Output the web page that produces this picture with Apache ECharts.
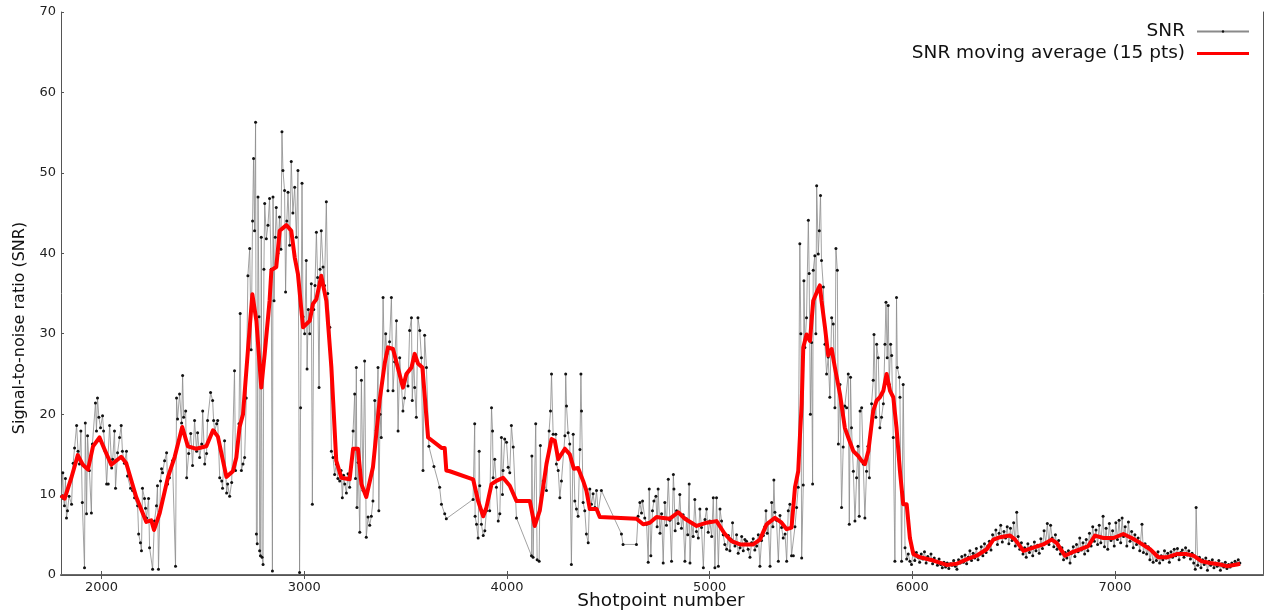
<!DOCTYPE html>
<html><head><meta charset="utf-8">
<script src="https://cdn.jsdelivr.net/npm/echarts@6/dist/echarts.min.js"></script>
<style>html,body{margin:0;padding:0;background:#fff}#chart{width:1267px;height:615px}</style>
</head><body><div id="chart"></div>
<script>
// ---- data ----
const snrShotpoints = [
 1803,1809,1812,1817,1822,1827,1832,1840,1852,1860,1867,1877,1884,1891,1898,1905,1916,1920,1926,1931,
 1940,1950,1955,1970,1975,1980,1987,1995,2005,2010,2018,2025,2033,2040,2050,2055,2064,2069,2079,2089,
 2097,2103,2113,2123,2128,2143,2153,2163,2178,2183,2192,2197,2202,2212,2217,2222,2232,2237,2252,2261,
 2271,2276,2281,2291,2296,2301,2311,2321,2326,2335,2350,2365,2370,2375,2385,2395,2400,2405,2415,2420,
 2430,2440,2449,2459,2469,2474,2484,2494,2499,2509,2518,2523,2538,2548,2553,2558,2568,2573,2583,2593,
 2597,2607,2617,2622,2632,2642,2656,2661,2671,2678,
 2684,2690,2698,2706,2714,2722,2731,2738,2745,2750,2755,2760,2764,2768,2772,2777,2780,2784,2788,2792,
 2797,2801,2805,2813,2821,2829,2837,2843,2846,2851,2857,2862,2870,2878,2885,2890,2895,2903,2908,2914,
 2920,2928,2936,2944,2953,2961,2969,2977,2982,2989,2994,3002,3010,3014,3020,3027,3035,3040,3047,3053,
 3060,3066,3073,3078,3084,3093,3100,3109,3116,3126,
 3134,3142,3150,3158,3166,3175,3182,3188,3194,3200,3208,3216,3224,3232,3241,3249,3253,3257,3260,3266,
 3274,3282,3290,3298,3306,3315,3323,3331,3339,3348,3356,3364,3368,3374,3380,3389,3396,3402,3408,3413,
 3421,3430,3438,3446,3455,3463,3471,3479,3487,3495,3504,3512,3520,3529,3533,3540,3545,3553,3561,3570,
 3578,3586,3594,3603,3615,3640,3668,3677,3693,3701,
 3833,3841,3843,3850,3858,3863,3866,3874,3883,3891,3899,3915,3924,3929,3932,3940,3948,3957,3965,3973,
 3978,3981,3989,3998,4006,4014,4022,4031,4047,4121,4123,4129,4142,4149,4159,4165,4170,4179,4195,4208,
 4215,4220,4228,4241,4244,4253,4261,4269,4286,4290,4294,4302,4310,4318,4327,4335,4343,4351,4360,4365,
 4368,4376,4384,4392,4401,4409,4417,4425,4434,4442,4450,4466,4565,4573,4639,
 4647,4656,4664,4669,4680,4689,4697,4702,4710,4718,4725,4735,4741,4746,4755,4763,4771,4779,4787,4796,
 4804,4812,4821,4824,4830,4837,4845,4853,4861,4869,4878,4886,4892,4899,4903,4911,4919,4927,4935,4944,
 4952,4960,4969,4977,4985,4993,5001,5010,5018,5026,5034,5043,5051,5059,5067,5075,5084,5092,5100,5107,
 5113,5119,5125,5133,5141,5150,5158,5166,5174,5182,5190,5199,5207,5215,5223,5232,5240,5248,5256,5265,
 5272,5278,5284,5289,5298,5306,5312,5317,5322,5330,5339,5347,5355,5363,5372,5380,5388,5396,5404,5413,
 5421,5429,5437,
 5445,5450,5454,5462,5465,5470,5478,5487,5491,5497,5503,5508,5511,5519,5524,5528,5536,5541,5547,5552,
 5561,5569,5577,5585,5593,5602,5610,5618,5623,5630,5635,5643,5651,5659,5667,5676,5684,5689,5695,5700,
 5709,5717,5725,5732,5738,5742,5750,5758,5766,5774,5781,5788,5799,5807,5811,5820,5824,5832,5840,5848,
 5857,5865,5870,5876,5881,5886,5893,5898,5906,5914,5922,5926,5936,5939,5947,5955,5964,5972,5980,5988,
 5996,
 6004,6012,6020,6028,6036,6044,6052,6060,6068,6076,6084,6092,6100,6108,6116,6124,6132,6140,6148,6156,
 6164,6172,6180,6188,6196,6204,6212,6220,6228,6236,6244,6252,6260,6268,6276,6284,6292,6300,6308,6316,
 6324,6332,6340,6348,6356,6364,6372,6380,6388,6396,6404,6412,6420,6428,6436,6444,6452,6460,6468,6476,
 6484,6492,6500,6508,6515,6522,6530,6538,6546,6554,6562,6570,6578,6586,6594,6602,6610,6618,6626,6634,
 6642,6650,6658,6666,6674,6682,6690,6698,6706,6714,6722,6730,6738,6746,6754,6762,6770,6778,6786,6794,
 6802,6810,6818,6826,6834,
 6842,6850,6858,6866,6874,6882,6890,6898,6906,6914,6922,6930,6941,6948,6956,6964,6972,6980,6988,6996,
 7004,7012,7020,7028,7035,7042,7050,7058,7066,7074,7082,7090,7098,7106,7114,7122,7133,7140,7148,7156,
 7164,7172,7180,7188,7196,7204,7212,7220,7228,7236,7244,7252,7260,7268,7276,7284,7292,7300,7308,7316,
 7324,7332,7340,7348,7356,7364,7372,7380,7388,7396,7400,7408,7416,7424,7432,7440,7448,7456,7464,7472,
 7480,7488,7496,7504,7512,7520,7528,7536,7544,7552,7560,7568,7576,7584,7592,7600,7608,7616
];
const snrValues = [
 9.8,12.7,9.5,8.6,12.0,7.1,8.0,9.8,8.8,13.9,15.8,18.6,15.4,13.8,17.9,9.0,0.9,18.9,7.6,17.3,
 13.0,7.7,16.3,21.4,17.9,22.0,19.6,18.3,19.8,17.9,15.4,11.3,11.3,18.6,13.3,14.4,17.9,10.8,15.2,17.1,
 18.6,15.4,13.9,15.4,12.3,10.8,10.5,9.6,8.6,5.1,4.0,3.0,10.8,9.5,8.3,7.1,9.5,3.4,0.7,6.7,
 8.6,11.1,0.7,11.7,13.2,12.7,14.2,15.2,11.3,12.1,14.2,1.1,22.0,19.4,22.5,18.9,24.8,19.6,20.4,12.1,
 15.1,17.6,13.6,19.2,15.4,17.7,14.6,16.3,20.4,13.8,15.1,19.2,22.7,21.7,19.2,17.9,18.8,19.2,12.1,11.7,
 10.8,16.7,10.2,11.3,9.8,11.5,25.4,13.0,15.8,18.8,
 32.5,13.0,13.8,14.6,22.0,37.2,40.6,28.0,44.0,51.8,42.8,56.3,5.1,3.9,47.0,32.1,3.0,2.4,42.0,2.2,
 1.3,38.0,46.2,41.8,43.5,46.8,38.0,0.5,47.0,34.1,42.0,45.7,40.0,44.5,40.5,55.1,50.3,47.8,35.2,44.0,
 47.6,41.0,51.4,45.0,48.2,42.0,50.3,0.3,20.8,48.7,32.1,30.0,39.1,25.6,33.0,30.0,36.2,8.8,33.0,36.0,
 42.6,37.0,23.3,38.0,42.8,38.3,36.0,46.4,35.0,30.8,
 15.4,14.6,12.5,13.8,12.0,11.7,13.0,9.6,12.4,11.3,10.2,12.6,10.9,13.5,17.9,22.5,12.0,25.8,8.4,14.0,
 5.3,24.2,10.5,26.6,4.7,7.2,6.2,7.3,9.2,21.7,18.0,25.8,8.0,20.0,17.1,34.5,26.0,30.0,27.5,22.9,
 29.0,34.5,22.9,26.5,31.6,17.9,27.0,24.0,20.4,22.0,25.0,23.5,30.4,32.0,21.7,27.0,23.3,19.6,32.0,30.4,
 27.0,13.0,29.8,25.8,16.0,13.5,10.9,8.8,7.6,7.0,
 9.4,18.8,7.3,6.3,4.6,15.4,11.1,6.3,4.9,5.5,8.0,8.0,20.8,17.9,12.1,14.4,10.9,6.7,7.6,17.1,
 10.0,13.0,16.9,16.5,13.4,12.7,18.6,15.9,7.1,2.4,14.8,2.2,18.8,1.9,1.7,16.1,9.6,11.7,10.5,17.9,
 20.4,25.0,17.5,17.5,13.8,13.0,9.6,11.7,17.3,25.0,21.0,17.7,16.3,1.3,17.5,9.2,8.2,7.3,15.6,25.0,
 20.4,9.0,8.0,5.1,4.0,10.7,8.8,10.1,8.4,10.5,7.8,10.5,5.1,3.8,3.8,
 7.3,9.0,7.7,9.2,7.1,6.3,1.6,10.7,2.4,8.0,9.2,9.8,6.0,10.7,5.2,7.6,1.5,9.0,6.2,11.9,
 6.8,1.7,12.5,10.7,5.5,8.0,6.4,10.0,5.8,7.5,1.7,7.0,5.0,11.3,1.5,6.5,4.8,9.4,5.4,4.6,
 8.2,5.9,0.9,6.9,8.2,5.3,6.7,4.8,9.6,0.9,9.6,1.1,8.2,6.7,5.0,3.8,3.2,4.9,3.0,4.4,
 6.5,4.0,3.6,5.0,2.7,3.4,4.8,3.0,4.4,4.2,3.2,2.2,4.0,4.5,3.1,3.6,5.0,1.1,4.3,4.9,
 6.0,8.0,5.2,6.5,1.1,9.0,6.0,11.8,7.8,6.8,1.7,7.4,5.9,4.6,5.1,1.7,8.0,8.8,2.4,2.4,
 6.0,8.4,10.9,
 41.2,30.0,2.1,11.2,36.6,28.3,32.0,44.1,37.5,20.0,28.9,11.3,37.9,39.7,30.0,48.4,39.9,42.8,47.2,39.1,
 35.8,28.7,25.0,27.1,22.1,32.0,31.2,20.8,40.6,37.9,16.3,23.7,8.4,15.9,21.0,20.8,25.0,6.3,24.6,18.3,
 12.9,6.7,12.1,16.0,7.3,20.4,20.8,13.8,7.1,12.9,16.0,12.1,21.3,24.2,29.9,19.6,28.7,27.0,18.3,19.6,
 21.3,28.7,33.9,27.0,33.5,23.7,28.7,27.3,17.1,1.7,34.5,25.8,24.6,22.1,1.7,23.7,3.4,2.0,2.6,1.7,
 1.3,
 2.9,1.8,2.8,2.2,1.6,2.6,2.0,2.9,1.5,2.3,1.9,2.6,1.4,2.1,1.7,1.2,2.0,1.3,0.9,1.6,
 1.0,1.5,0.8,1.4,1.2,1.8,1.1,0.7,1.9,1.5,2.3,1.6,2.5,1.4,2.2,3.0,1.8,2.7,2.1,3.3,
 1.9,2.6,3.5,2.4,3.9,2.8,3.6,4.2,3.1,5.0,4.4,5.6,3.8,5.2,6.2,4.1,5.4,4.6,6.0,3.9,
 5.8,4.3,6.5,3.6,7.8,4.8,3.2,4.0,2.6,3.4,2.2,3.9,2.8,3.5,2.4,4.1,3.0,3.7,2.7,4.5,
 3.3,5.5,4.0,6.4,3.8,6.2,4.6,3.5,5.0,3.2,4.3,2.6,3.4,1.9,2.8,2.1,3.0,1.5,2.7,3.5,
 2.3,3.8,2.9,4.6,3.1,
 4.0,2.6,4.4,3.0,5.2,3.6,6.0,4.2,5.6,3.8,6.2,4.0,7.3,3.5,5.8,3.2,6.4,4.3,5.5,3.6,
 6.5,4.4,6.8,4.0,7.1,4.8,6.0,3.6,6.6,4.2,5.4,3.4,5.0,3.8,4.6,3.0,6.3,2.8,3.9,2.6,
 3.5,1.9,3.0,1.6,2.6,1.8,2.9,1.5,2.4,1.9,3.0,2.1,2.7,1.6,2.9,2.2,3.2,2.4,3.3,1.9,
 2.8,3.1,2.2,3.4,2.5,3.0,2.0,2.7,1.5,0.7,8.4,1.2,2.2,0.9,1.9,1.3,2.1,0.6,1.7,1.2,
 1.9,0.9,1.5,1.1,1.8,0.6,1.4,1.0,1.6,0.8,1.3,1.0,1.5,1.2,1.7,1.4,1.9,1.5
];
const maShotpoints = [
 1800,1818,1850,1883,1908,1933,1958,1990,2015,2048,2097,2122,2171,2221,2245,2259,2287,2328,2361,2398,
 2426,2467,2517,2550,2574,2616,2648,2665,2681,2698,2722,2744,2764,2788,2805,2829,2838,2862,2879,2912,
 2936,2953,2969,2994,3027,3043,3060,3084,3109,3134,3158,3183,3224,3241,3265,3282,3306,3339,3372,3397,
 3413,3438,3487,3504,3529,3545,3561,3583,3611,3677,3693,3701,3718,3833,3858,3883,3899,3924,3948,3981,
 4014,4047,4113,4137,4162,4195,4220,4236,4253,4286,4310,4330,4351,4376,4392,4409,4442,4458,4639,4672,
 4705,4738,4771,4804,4845,4878,4936,4985,5034,5075,5108,5150,5215,5248,5281,5322,5355,5380,5404,5421,
 5437,5446,5454,5462,5478,5495,5511,5536,5544,5552,5569,5585,5602,5618,5643,5667,5684,5709,5733,5750,
 5766,5783,5807,5824,5840,5857,5873,5890,5906,5922,5939,5955,5972,5988,6005,6038,6104,6169,6219,6268,
 6317,6367,6400,6433,6482,6507,6548,6597,6646,6687,6712,6753,6786,6827,6868,6901,6943,6992,7041,7082,
 7123,7173,7214,7255,7304,7354,7387,7428,7469,7518,7551,7601,7617
];
const maValues = [
 9.9,9.5,12.0,14.9,13.7,13.1,16.0,17.1,15.6,13.7,14.7,13.9,9.7,6.6,6.8,5.6,7.7,12.2,14.7,18.4,
 16.0,15.7,16.0,18.0,17.2,12.2,12.9,14.6,18.4,20.0,27.9,34.9,31.6,23.3,27.5,34.1,37.9,38.3,42.8,43.5,
 42.8,39.5,37.4,30.8,31.6,33.7,34.3,37.2,34.1,25.8,14.2,12.1,11.9,15.7,15.7,11.3,9.7,13.4,21.7,26.3,
 28.3,28.1,23.3,25.0,25.8,27.5,26.3,25.8,17.1,15.8,15.8,13.0,12.9,11.9,9.2,7.3,8.4,11.3,11.7,12.1,
 11.1,9.2,9.2,6.1,8.0,13.8,16.9,16.7,14.4,15.7,15.0,13.2,13.3,11.7,10.5,8.2,8.2,7.2,7.0,6.3,
 6.5,7.2,7.1,7.0,7.8,7.0,6.1,6.5,6.7,5.1,4.2,3.8,3.8,4.4,6.3,7.1,6.5,5.7,5.9,10.9,
 12.9,17.5,21.2,28.3,29.9,29.1,34.1,35.6,36.0,34.1,30.8,27.3,28.1,25.8,22.5,18.3,17.1,15.4,14.8,14.2,
 13.8,15.4,20.4,21.7,22.1,22.9,25.0,22.9,22.1,18.3,12.9,8.8,8.8,4.6,2.6,2.2,1.8,1.25,1.4,1.95,
 2.4,3.2,4.4,4.7,4.9,4.4,3.0,3.4,3.8,4.4,4.0,2.4,2.8,3.2,3.6,4.9,4.6,4.6,5.1,4.6,
 4.0,3.2,2.2,2.2,2.6,2.6,2.4,1.7,1.5,1.3,1.1,1.3,1.4
];
const xTickValues = [2000, 3000, 4000, 5000, 6000, 7000];
const seriesNames = ['SNR', 'SNR moving average (15 pts)'];
const xAxisTitle = 'Shotpoint number';
const yAxisTitle = 'Signal-to-noise ratio (SNR)';

if (snrShotpoints.length !== snrValues.length) throw new Error('SNR length mismatch ' + snrShotpoints.length + ' vs ' + snrValues.length);
if (maShotpoints.length !== maValues.length) throw new Error('MA length mismatch ' + maShotpoints.length + ' vs ' + maValues.length);

const FONT = '"DejaVu Sans", "Liberation Sans", sans-serif';
const chart = echarts.init(document.getElementById('chart'));
const frameColor = '#555';
chart.setOption({
  animation: false,
  backgroundColor: '#ffffff',
  grid: { left: 61, right: 4, top: 12, bottom: 40 },
  legend: {
    orient: 'vertical', right: 12, top: 17, align: 'right',
    itemWidth: 52, itemHeight: 3, itemGap: 3,
    textStyle: { fontFamily: FONT, fontSize: 18.5, color: '#111', padding: [0, 7, 0, 0] },
    data: [{ name: seriesNames[0] }, { name: seriesNames[1], icon: 'rect', itemStyle: { color: '#ff0000' } }]
  },
  xAxis: [{
    type: 'value', min: 1800, max: 7730,
    axisLine: { show: true, lineStyle: { color: '#6a6a6a', width: 2 } },
    axisTick: { show: true, inside: true, length: 4, customValues: xTickValues, lineStyle: { color: frameColor } },
    axisLabel: { show: true, customValues: xTickValues, margin: 6, fontFamily: FONT, fontSize: 13, color: '#222',
      formatter: function (v) { return String(v); } },
    splitLine: { show: false }
  }, {
    type: 'value', min: 1800, max: 7730, position: 'top',
    axisLine: { show: true, lineStyle: { color: frameColor, width: 1 } },
    axisTick: { show: true, inside: true, length: 4, customValues: xTickValues, lineStyle: { color: frameColor } },
    axisLabel: { show: false }, splitLine: { show: false }
  }],
  yAxis: [{
    type: 'value', min: 0, max: 70, interval: 10,
    axisLine: { show: true, lineStyle: { color: frameColor, width: 1 } },
    axisTick: { show: true, inside: true, length: 3, lineStyle: { color: frameColor } },
    axisLabel: { margin: 5, fontFamily: FONT, fontSize: 13, color: '#222' },
    splitLine: { show: false }
  }, {
    type: 'value', min: 0, max: 70, interval: 10, position: 'right',
    axisLine: { show: true, lineStyle: { color: frameColor, width: 1 } },
    axisTick: { show: false }, axisLabel: { show: false }, splitLine: { show: false }
  }],
  series: [{
    name: seriesNames[0], type: 'line', xAxisIndex: 0, yAxisIndex: 0,
    data: snrShotpoints.map((x, i) => [x, snrValues[i]]),
    symbol: 'circle', symbolSize: 3, showSymbol: true, showAllSymbol: true,
    lineStyle: { color: '#8a8a8a', width: 0.8 },
    itemStyle: { color: '#111', borderWidth: 0 },
    emphasis: { disabled: true }, silent: true, z: 2
  }, {
    name: seriesNames[1], type: 'line', xAxisIndex: 0, yAxisIndex: 0,
    data: maShotpoints.map((x, i) => [x, maValues[i]]),
    symbol: 'none', showSymbol: false,
    lineStyle: { color: '#ff0000', width: 4, join: 'round' },
    itemStyle: { color: '#ff0000' },
    emphasis: { disabled: true }, silent: true, z: 3
  }],
  graphic: [{
    type: 'text', x: 20, y: 328, rotation: Math.PI / 2,
    style: { text: yAxisTitle, font: '16px ' + FONT, fill: '#111', align: 'center', verticalAlign: 'middle' }
  }, {
    type: 'text', x: 661, y: 601,
    style: { text: xAxisTitle, font: '18.5px ' + FONT, fill: '#111', align: 'center', verticalAlign: 'middle' }
  }]
});
</script></body></html>
